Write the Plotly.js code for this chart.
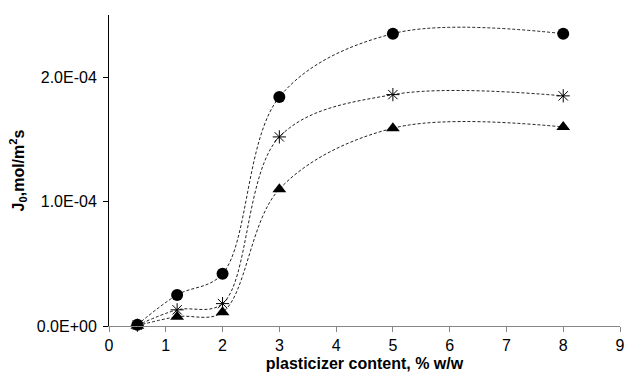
<!DOCTYPE html>
<html>
<head>
<meta charset="utf-8">
<script src="https://cdn.plot.ly/plotly-3.0.1.min.js"></script>
<style>html,body{margin:0;padding:0;background:#fff;}#chart{width:627px;height:376px;}</style>
</head>
<body>
<div id="chart"></div>
<script>
// plasticizer content, % w/w
const plasticizer = [0.5, 1.2, 2, 3, 5, 8];
// J0, mol/m2s
const seriesCircle = [1.0e-6, 2.5e-5, 4.2e-5, 1.84e-4, 2.35e-4, 2.35e-4];
const seriesStar = [6.0e-7, 1.3e-5, 1.8e-5, 1.52e-4, 1.86e-4, 1.85e-4];
const seriesTriangle = [3.0e-7, 7.5e-6, 1.1e-5, 1.10e-4, 1.59e-4, 1.60e-4];
const yTickVals = [0, 1e-4, 2e-4];
const yTickText = ["0.0E+00", "1.0E-04", "2.0E-04"];
const xTickVals = [0, 1, 2, 3, 4, 5, 6, 7, 8, 9];

function mk(y, symbol, size, lw) {
  return {
    x: plasticizer, y: y, type: 'scatter', mode: 'lines+markers',
    line: {shape: 'spline', smoothing: 1, dash: '3px,2px', color: '#222', width: 1},
    marker: {symbol: symbol, size: size, color: '#000', line: {color: '#000', width: lw}},
    showlegend: false, cliponaxis: false
  };
}

const data = [
  mk(seriesCircle, 'circle', 12, 0),
  mk(seriesStar, 'asterisk-open', 11, 1),
  mk(seriesTriangle, 'triangle-up', 12, 0)
];

const FONT = "'Liberation Sans', Arial, sans-serif";
const layout = {
  width: 627, height: 376,
  margin: {l: 109, r: 7, t: 15, b: 50},
  paper_bgcolor: '#fff', plot_bgcolor: '#fff',
  font: {family: FONT, size: 16, color: '#000'},
  xaxis: {
    range: [0, 9], tickvals: xTickVals, showgrid: false, zeroline: false,
    showline: true, linecolor: '#868686', linewidth: 1,
    ticks: 'outside', ticklen: 5, tickcolor: '#868686',
    tickfont: {family: FONT, size: 16},
    title: {text: 'plasticizer content, % w/w', font: {family: FONT, size: 16, weight: 'bold'}, standoff: 4}
  },
  yaxis: {
    range: [0, 2.5e-4], tickvals: yTickVals, ticktext: yTickText, showgrid: false, zeroline: false,
    showline: true, linecolor: '#000', linewidth: 1,
    ticks: 'outside', ticklen: 5, tickcolor: '#000',
    ticklabelstandoff: 3,
    tickfont: {family: FONT, size: 16},
    title: {text: 'J<sub>0</sub>,mol/m<sup>2</sup>s', font: {family: FONT, size: 16, weight: 'bold'}, standoff: 8}
  }
};

Plotly.newPlot('chart', data, layout, {displayModeBar: false, staticPlot: true});
</script>
</body>
</html>
